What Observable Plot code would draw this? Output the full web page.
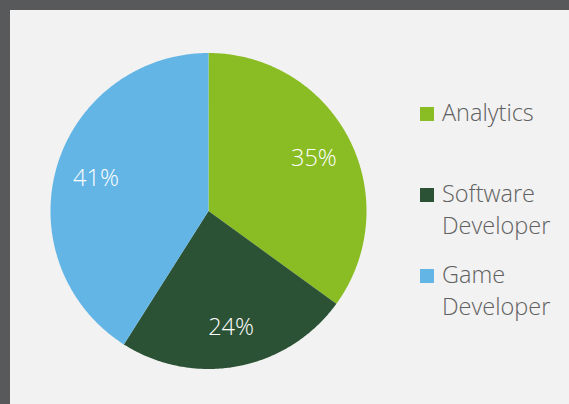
<!DOCTYPE html>
<html>
<head>
<meta charset="utf-8">
<script src="https://cdn.jsdelivr.net/npm/d3@7"></script>
<script src="https://cdn.jsdelivr.net/npm/@observablehq/plot@0.6"></script>
<style>
  html, body { margin: 0; padding: 0; }
  body { width: 569px; height: 404px; background: #58595b; overflow: hidden; position: relative; font-family: "Open Sans", sans-serif; }
  #frame { position: absolute; left: 10px; top: 10px; width: 559px; height: 394px; background: #f2f2f2; }
  #chart { position: absolute; left: 0; top: 0; }
  #legend { position: absolute; left: 410px; top: 85.5px; }
  .item { height: 81px; display: flex; align-items: flex-start; }
  .sw { width: 14px; height: 14px; margin-top: 11.5px; margin-right: 8px; flex: none; }
  .lbl { font-size: 23.5px; font-weight: 300; line-height: 32.5px; color: #606060; width: 125px; }
</style>
</head>
<body>
<div id="frame">
  <div id="chart"></div>
  <div id="legend"></div>
</div>
<script>
const categories = ["Analytics", "Software Developer", "Game Developer"];
const legendLines = [["Analytics"], ["Software", "Developer"], ["Game", "Developer"]];
const values = [35, 24, 41];
const colors = ["#8abd24", "#2b5235", "#63b5e5"];

const total = d3.sum(values);
const slices = [];
const labels = [];
let acc = 0;
categories.forEach((cat, i) => {
  const a0 = acc / total * 2 * Math.PI;
  acc += values[i];
  const a1 = acc / total * 2 * Math.PI;
  const n = Math.max(2, Math.ceil((a1 - a0) / (Math.PI / 360)));
  for (let k = 0; k <= n; k++) {
    const t = a0 + (a1 - a0) * k / n;
    slices.push({cat, cx: 0, cy: 0, x: Math.sin(t), y: Math.cos(t)});
  }
  const m = (a0 + a1) / 2;
  labels.push({cat, x: 0.745 * Math.sin(m), y: 0.745 * Math.cos(m), text: Math.round(values[i] / total * 100) + "%"});
});

const cx = 198.5, cy = 201, R = 158;
const chart = Plot.plot({
  width: 400,
  height: 394,
  margin: 0,
  style: {background: "transparent", fontFamily: "Open Sans, sans-serif"},
  x: {domain: [-1, 1], range: [cx - R, cx + R], axis: null},
  y: {domain: [-1, 1], range: [cy + R, cy - R], axis: null},
  color: {domain: categories, range: colors},
  marks: [
    Plot.area(slices, {x1: "cx", y1: "cy", x2: "x", y2: "y", z: "cat", fill: "cat", curve: "linear"}),
    Plot.text(labels, {x: "x", y: "y", text: "text", fill: "white", fontSize: 23.5, fontWeight: 300, fontFamily: "Open Sans, sans-serif"})
  ]
});
document.getElementById("chart").appendChild(chart);

const legend = document.getElementById("legend");
categories.forEach((cat, i) => {
  const item = document.createElement("div");
  item.className = "item";
  const sw = document.createElement("div");
  sw.className = "sw";
  sw.style.background = colors[i];
  const lbl = document.createElement("div");
  lbl.className = "lbl";
  lbl.innerHTML = legendLines[i].join("<br>");
  item.appendChild(sw);
  item.appendChild(lbl);
  legend.appendChild(item);
});
</script>
</body>
</html>
